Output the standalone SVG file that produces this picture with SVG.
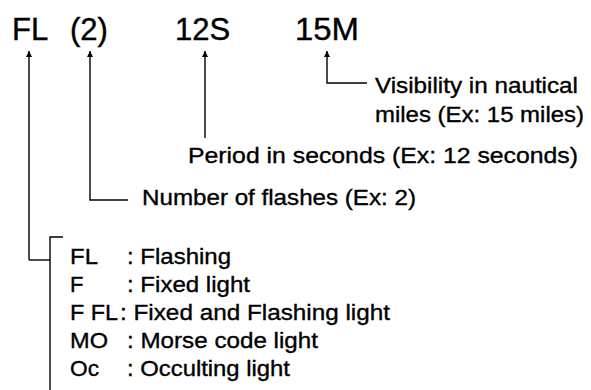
<svg xmlns="http://www.w3.org/2000/svg" width="591" height="390" viewBox="0 0 591 390">
  <style>
    .title { font-family: "Liberation Sans", Arial, sans-serif; font-size: 31px; fill: #000; stroke: #000; stroke-width: 0.4; }
    .lbl { font-family: "Liberation Sans", Arial, sans-serif; font-size: 22px; fill: #000; stroke: #000; stroke-width: 0.35; }
    .conn { fill: none; stroke: #000; stroke-width: 1.4; }
  </style>
  <defs>
    <marker id="arrow" viewBox="0 0 10 10" refX="10" refY="5" markerWidth="9" markerHeight="6" markerUnits="userSpaceOnUse" orient="auto">
      <path d="M0,0 L10,5 L0,10 Z" fill="#000"/>
    </marker>
  </defs>
  <rect width="591" height="390" fill="#fff"/>

  <g id="code">
    <text class="title" x="12" y="40">FL</text>
    <text class="title" x="70" y="40">(2)</text>
    <text class="title" x="175" y="40">12S</text>
    <text class="title" x="295" y="40" textLength="64" lengthAdjust="spacingAndGlyphs">15M</text>
  </g>

  <g id="connectors">
    <path class="conn" d="M29,260 V51" marker-end="url(#arrow)"/>
    <path class="conn" d="M50,260 H29"/>
    <path class="conn" d="M128,200 H90 V51" marker-end="url(#arrow)"/>
    <path class="conn" d="M205,138 V51" marker-end="url(#arrow)"/>
    <path class="conn" d="M367,83 H327 V51" marker-end="url(#arrow)"/>
    <path class="conn" d="M63,237 H50 V390"/>
  </g>

  <g id="visibility">
    <text class="lbl" x="375" y="93" textLength="203" lengthAdjust="spacingAndGlyphs">Visibility in nautical</text>
    <text class="lbl" x="375" y="122" textLength="209" lengthAdjust="spacingAndGlyphs">miles (Ex: 15 miles)</text>
  </g>

  <g id="period">
    <text class="lbl" x="188" y="163" textLength="390" lengthAdjust="spacingAndGlyphs">Period in seconds (Ex: 12 seconds)</text>
  </g>

  <g id="flashes">
    <text class="lbl" x="142" y="205" textLength="274" lengthAdjust="spacingAndGlyphs">Number of flashes (Ex: 2)</text>
  </g>

  <g id="types">
    <text class="lbl" x="70" y="264" textLength="28" lengthAdjust="spacingAndGlyphs">FL</text>
    <text class="lbl" x="127" y="264" textLength="104" lengthAdjust="spacingAndGlyphs">: Flashing</text>
    <text class="lbl" x="70" y="292">F</text>
    <text class="lbl" x="127" y="292" textLength="123" lengthAdjust="spacingAndGlyphs">: Fixed light</text>
    <text class="lbl" x="70" y="320" textLength="48" lengthAdjust="spacingAndGlyphs">F FL</text>
    <text class="lbl" x="120" y="320" textLength="270" lengthAdjust="spacingAndGlyphs">: Fixed and Flashing light</text>
    <text class="lbl" x="70" y="348" textLength="38" lengthAdjust="spacingAndGlyphs">MO</text>
    <text class="lbl" x="127" y="348" textLength="191" lengthAdjust="spacingAndGlyphs">: Morse code light</text>
    <text class="lbl" x="70" y="376" textLength="29" lengthAdjust="spacingAndGlyphs">Oc</text>
    <text class="lbl" x="127" y="376" textLength="163" lengthAdjust="spacingAndGlyphs">: Occulting light</text>
  </g>
</svg>
